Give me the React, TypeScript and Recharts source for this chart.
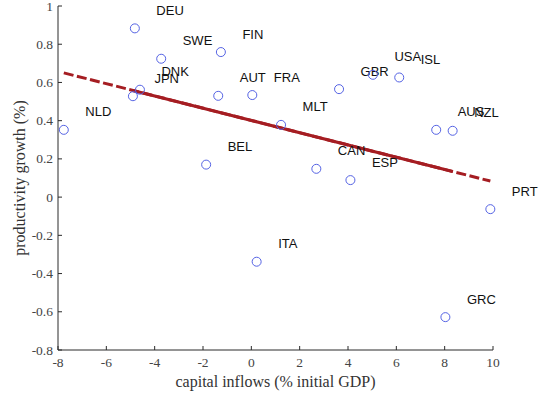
import React from 'react'
import { ScatterChart, Scatter, XAxis, YAxis, ReferenceLine, Label } from 'recharts'

const countries = ['NLD', 'JPN', 'DEU', 'DNK', 'SWE', 'BEL', 'AUT', 'FIN', 'FRA', 'ITA', 'MLT', 'CAN', 'GBR', 'ESP', 'USA', 'ISL', 'AUS', 'GRC', 'NZL', 'PRT']
const capitalInflows = [-7.76, -4.9, -4.82, -4.61, -3.73, -1.87, -1.37, -1.26, 0.04, 0.22, 1.23, 2.69, 3.63, 4.1, 5.03, 6.12, 7.65, 8.03, 8.33, 9.89]
const productivity = [0.352, 0.528, 0.883, 0.562, 0.724, 0.17, 0.53, 0.759, 0.534, -0.338, 0.378, 0.148, 0.565, 0.089, 0.64, 0.626, 0.352, -0.628, 0.347, -0.063]

// fitted line: whole range dashed, inner range solid
const fitX = [-7.76, 9.89]
const fitY = [0.65, 0.084]
const fitSolidX = [-4.9, 8.33]
const fitSolidY = [0.558, 0.134]

const xTicks = [-8, -6, -4, -2, 0, 2, 4, 6, 8, 10]
const yTicks = [-0.8, -0.6, -0.4, -0.2, 0, 0.2, 0.4, 0.6, 0.8, 1]

const points = countries.map((c, i) => ({ name: c, x: capitalInflows[i], y: productivity[i] }))

const serif = '"Liberation Serif", "Times New Roman", serif'
const sans = '"Liberation Sans", Arial, sans-serif'
const axisColor = '#2b2b2b'
const fitColor = '#a51d22'

const XTick = (props: any) => {
  const { x, y, payload } = props
  return (
    <g>
      <line x1={x} x2={x} y1={y} y2={y - 4} stroke={axisColor} />
      <text x={x} y={y + 16.5} textAnchor="middle" fontFamily={serif} fontSize={13.5} fill="#444">
        {String(payload.value)}
      </text>
    </g>
  )
}

const YTick = (props: any) => {
  const { x, y, payload } = props
  return (
    <g>
      <line x1={x} x2={x + 4} y1={y} y2={y} stroke={axisColor} />
      <text x={x - 5} y={y + 4.5} textAnchor="end" fontFamily={serif} fontSize={13.5} fill="#444">
        {String(payload.value)}
      </text>
    </g>
  )
}

const PointShape = (props: any) => {
  const { cx, cy, payload } = props
  return (
    <g>
      <circle cx={cx} cy={cy} r={4.5} fill="none" stroke="#5563e4" strokeWidth={1} />
      <text x={cx + 21.5} y={cy - 13.5} fontFamily={sans} fontSize={13} fill="#111">
        {payload.name}
      </text>
    </g>
  )
}

export default function App() {
  return (
    <div style={{ position: 'absolute', left: 0, top: 0, background: '#fff' }}>
      <ScatterChart width={545} height={401} margin={{ top: 6, right: 52, bottom: 0, left: 0 }}>
        <XAxis
          type="number"
          dataKey="x"
          domain={[-8, 10]}
          ticks={xTicks}
          interval={0}
          height={51}
          stroke={axisColor}
          tickLine={false}
          tickSize={0}
          tickMargin={0}
          tick={<XTick />}
        >
          <Label
            content={(p: any) => {
              const vb = p.viewBox
              return (
                <text x={vb.x + vb.width / 2} y={vb.y + 37} textAnchor="middle" fontFamily={serif} fontSize={16} fill="#333">
                  capital inflows (% initial GDP)
                </text>
              )
            }}
          />
        </XAxis>
        <YAxis
          type="number"
          dataKey="y"
          domain={[-0.8, 1]}
          ticks={yTicks}
          interval={0}
          width={58}
          stroke={axisColor}
          tickLine={false}
          tickSize={0}
          tickMargin={0}
          tick={<YTick />}
        >
          <Label
            content={(p: any) => {
              const vb = p.viewBox
              const cx = vb.x + 25
              const cy = vb.y + vb.height / 2
              return (
                <text x={cx} y={cy} transform={`rotate(-90 ${cx} ${cy})`} textAnchor="middle" fontFamily={serif} fontSize={16} fill="#333">
                  productivity growth (%)
                </text>
              )
            }}
          />
        </YAxis>
        <ReferenceLine
          segment={[{ x: fitX[0], y: fitY[0] }, { x: fitX[1], y: fitY[1] }]}
          stroke={fitColor}
          strokeWidth={3}
          strokeDasharray="10 3.5"
          ifOverflow="visible"
        />
        <ReferenceLine
          segment={[{ x: fitSolidX[0], y: fitSolidY[0] }, { x: fitSolidX[1], y: fitSolidY[1] }]}
          stroke={fitColor}
          strokeWidth={3}
          ifOverflow="visible"
        />
        <Scatter data={points} shape={<PointShape />} isAnimationActive={false} />
      </ScatterChart>
    </div>
  )
}
